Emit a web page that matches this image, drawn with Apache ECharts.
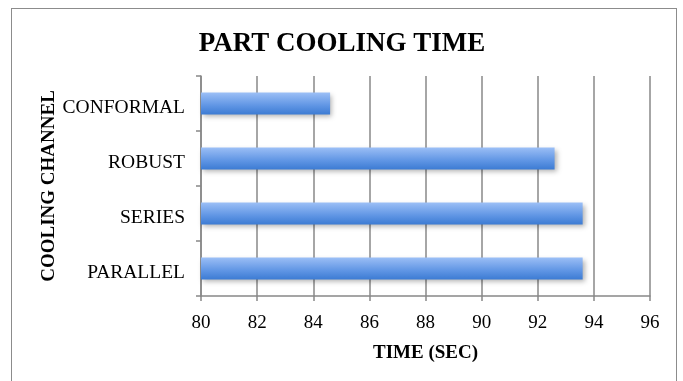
<!DOCTYPE html>
<html>
<head>
<meta charset="utf-8">
<script src="https://cdn.jsdelivr.net/npm/echarts@6/dist/echarts.min.js"></script>
<style>
  html, body { margin: 0; padding: 0; background: #ffffff; }
  #frame { position: absolute; left: 11px; top: 8px; width: 666px; height: 400px;
           border: 1.5px solid #8c8c8c; box-sizing: border-box; }
  #chart { position: absolute; left: 0; top: 0; width: 683px; height: 381px; }
</style>
</head>
<body>
<div id="frame"></div>
<div id="chart"></div>
<script>
// Cooling channel layouts, listed bottom to top as drawn on the category axis
const channels = ['PARALLEL', 'SERIES', 'ROBUST', 'CONFORMAL'];
// Part cooling time in seconds for each layout
const coolingTime = [93.6, 93.6, 92.6, 84.6];
// Time axis range and step
const timeMin = 80;
const timeMax = 96;
const timeStep = 2;

const serif = '"Liberation Serif", "Times New Roman", serif';
const chart = echarts.init(document.getElementById('chart'), null, { renderer: 'canvas' });

chart.setOption({
  backgroundColor: 'transparent',
  animation: false,
  title: {
    text: 'PART COOLING TIME',
    left: 337, top: 26, textAlign: 'center',
    textStyle: { fontFamily: serif, fontWeight: 'bold', fontSize: 27, color: '#000' }
  },
  grid: { left: 201, top: 76, width: 449, height: 220, containLabel: false },
  xAxis: {
    type: 'value',
    min: timeMin, max: timeMax, interval: timeStep,
    name: 'TIME (SEC)', nameLocation: 'middle', nameGap: 48, nameMoveOverlap: false,
    nameTextStyle: { fontFamily: serif, fontWeight: 'bold', fontSize: 19, color: '#000' },
    axisLine: { show: true, lineStyle: { color: '#888', width: 1.5 } },
    axisTick: { show: true, length: 5, lineStyle: { color: '#888', width: 1.5 } },
    axisLabel: { fontFamily: serif, fontSize: 19, color: '#000', margin: 18 },
    splitLine: { show: true, lineStyle: { color: '#888', width: 1.5 } }
  },
  yAxis: {
    type: 'category',
    data: channels,
    name: 'COOLING CHANNEL', nameLocation: 'middle', nameGap: 142, nameRotate: 90,
    nameMoveOverlap: false,
    nameTextStyle: { fontFamily: serif, fontWeight: 'bold', fontSize: 19, color: '#000' },
    axisLine: { show: true, lineStyle: { color: '#888', width: 1.5 } },
    axisTick: { show: true, length: 5, alignWithLabel: false, lineStyle: { color: '#888', width: 1.5 } },
    axisLabel: { fontFamily: serif, fontSize: 19.5, color: '#000', margin: 16,
                 verticalAlign: 'top', lineHeight: 8 },
    splitLine: { show: false }
  },
  series: [{
    type: 'bar',
    data: coolingTime,
    barWidth: '40%',
    itemStyle: {
      color: new echarts.graphic.LinearGradient(0, 0, 0, 1, [
        { offset: 0, color: '#9cc0f7' },
        { offset: 0.12, color: '#8fb6f2' },
        { offset: 0.6, color: '#5f95e4' },
        { offset: 1, color: '#3c7bd3' }
      ]),
      shadowColor: 'rgba(0,0,0,0.3)',
      shadowBlur: 5,
      shadowOffsetX: 2,
      shadowOffsetY: 2
    }
  }]
});
</script>
</body>
</html>
